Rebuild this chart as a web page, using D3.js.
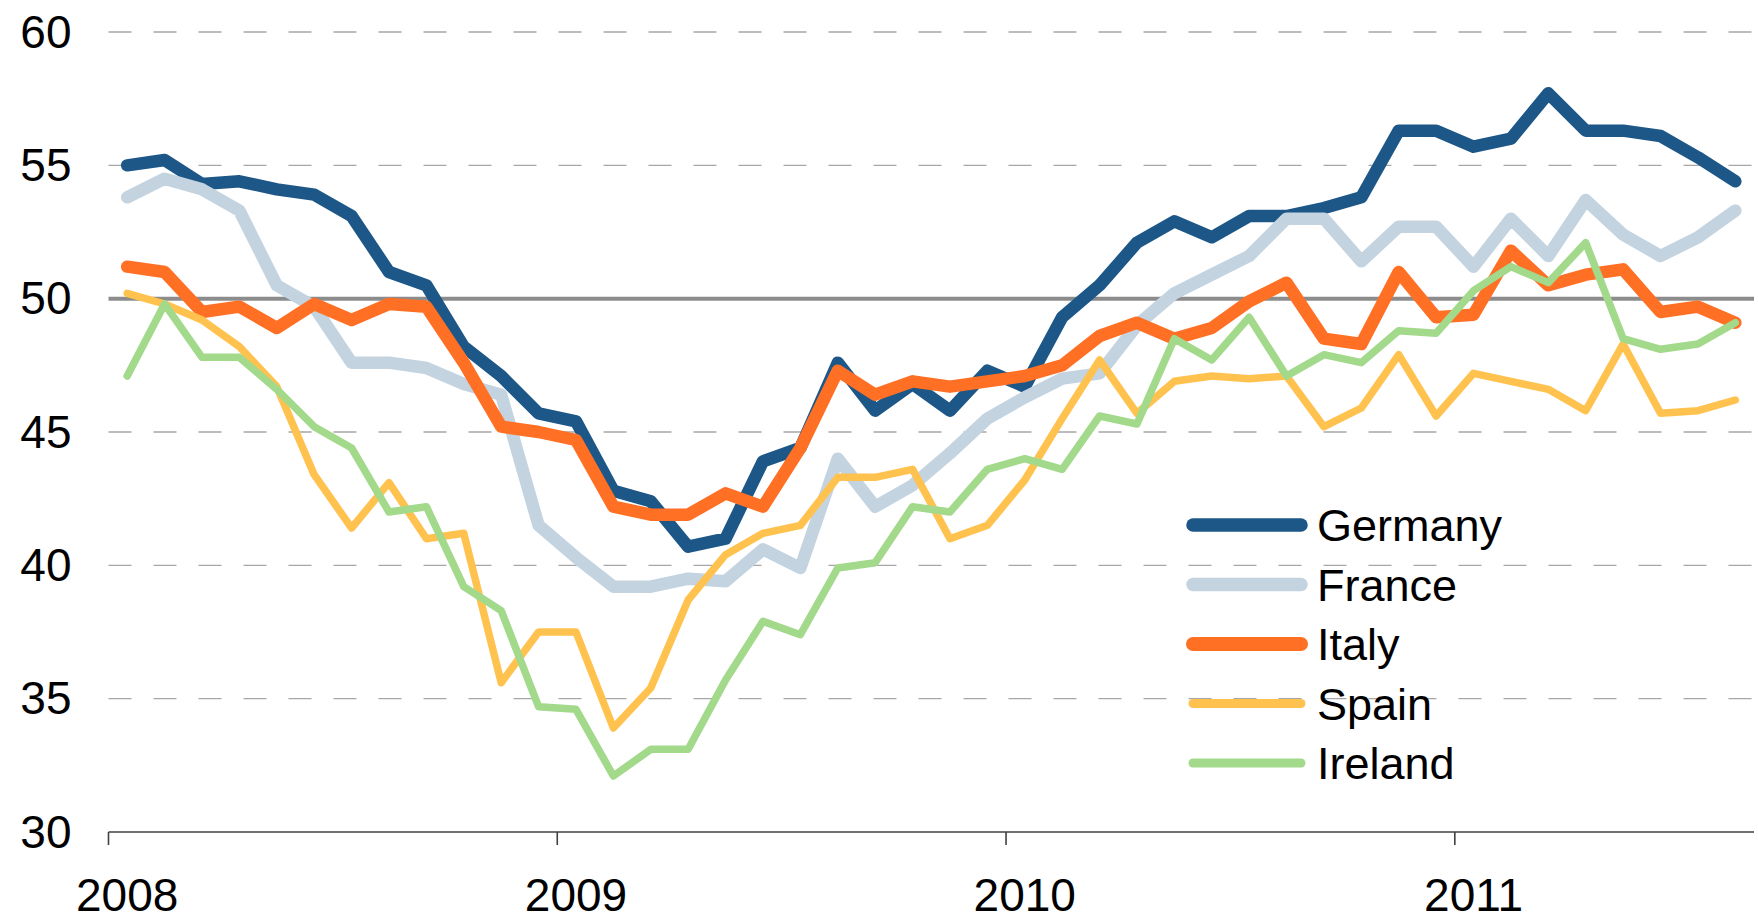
<!DOCTYPE html>
<html>
<head>
<meta charset="utf-8">
<script src="https://cdn.jsdelivr.net/npm/d3@7"></script>
<style>
	html, body { margin: 0; padding: 0; background: #fff; }
	svg { display: block; font-family: "Liberation Sans", Arial, sans-serif; }
	.axis text { fill: #000; font-size: 46px; }
	.legend text { fill: #000; font-size: 45px; }
</style>
</head>
<body>
<div id="chart"></div>
<script>
// monthly PMI readings, Jan 2008 - Aug 2011
const months = [
	'2008-01','2008-02','2008-03','2008-04','2008-05','2008-06','2008-07','2008-08','2008-09','2008-10','2008-11','2008-12',
	'2009-01','2009-02','2009-03','2009-04','2009-05','2009-06','2009-07','2009-08','2009-09','2009-10','2009-11','2009-12',
	'2010-01','2010-02','2010-03','2010-04','2010-05','2010-06','2010-07','2010-08','2010-09','2010-10','2010-11','2010-12',
	'2011-01','2011-02','2011-03','2011-04','2011-05','2011-06','2011-07','2011-08'
];
const germany = [55.0,55.2,54.3,54.4,54.1,53.9,53.1,51.0,50.5,48.2,47.1,45.7,
	45.4,42.8,42.4,40.7,41.0,43.9,44.4,47.6,45.8,46.8,45.8,47.3,
	46.7,49.3,50.5,52.1,52.9,52.3,53.1,53.1,53.4,53.8,56.3,56.3,
	55.7,56.0,57.7,56.3,56.3,56.1,55.3,54.4];
const france = [53.8,54.5,54.1,53.3,50.5,49.7,47.6,47.6,47.4,46.8,46.4,41.5,
	40.3,39.2,39.2,39.5,39.4,40.6,39.9,44.0,42.2,43.0,44.2,45.5,
	46.3,47.0,47.2,49.0,50.2,50.9,51.6,53.0,53.0,51.4,52.7,52.7,
	51.2,53.0,51.6,53.7,52.4,51.6,52.3,53.3];
const italy = [51.2,51.0,49.5,49.7,48.9,49.8,49.2,49.8,49.7,47.6,45.2,45.0,
	44.7,42.2,41.9,41.9,42.7,42.2,44.4,47.3,46.4,46.9,46.7,46.9,
	47.1,47.5,48.6,49.1,48.5,48.9,49.9,50.6,48.5,48.3,51.0,49.3,
	49.4,51.8,50.5,50.9,51.1,49.5,49.7,49.1];
const spain = [50.2,49.8,49.2,48.2,46.7,43.4,41.4,43.1,41.0,41.2,35.6,37.5,
	37.5,33.9,35.4,38.7,40.4,41.2,41.5,43.3,43.3,43.6,41.0,41.5,
	43.2,45.5,47.7,45.7,46.9,47.1,47.0,47.1,45.2,45.9,47.9,45.6,
	47.2,46.9,46.6,45.8,48.3,45.7,45.8,46.2];
const ireland = [47.1,49.8,47.8,47.8,46.6,45.2,44.4,42.0,42.2,39.2,38.3,34.7,
	34.6,32.1,33.1,33.1,35.7,37.9,37.4,39.9,40.1,42.2,42.0,43.6,
	44.0,43.6,45.6,45.3,48.5,47.7,49.3,47.1,47.9,47.6,48.8,48.7,
	50.3,51.2,50.6,52.1,48.5,48.1,48.3,49.1];

const countries = ['Germany', 'France', 'Italy', 'Spain', 'Ireland'];
const seriesValues = [germany, france, italy, spain, ireland];
const colors = ['#1c5787', '#c3d3e0', '#ff6f24', '#ffc24f', '#a2d98b'];
const widths = [12.5, 12.5, 12.5, 7.5, 7.5];
const legendWidths = [13.5, 13.5, 14, 9, 9];

const yTicks = [30, 35, 40, 45, 50, 55, 60];
const yearLabels = ['2008', '2009', '2010', '2011'];

// dimension stuff
const width = 1758;
const height = 922;
const marginLeft = 108.5;
const marginRight = 4;
const marginTop = 32;
const axisY = 832;

const $svg = d3.select('#chart').append('svg')
	.attr('width', width)
	.attr('height', height);

// scales
const scaleX = d3.scaleBand()
	.domain(months)
	.range([marginLeft, width - marginRight])
	.paddingInner(0)
	.paddingOuter(0);
const bw = scaleX.bandwidth();
const scaleY = d3.scaleLinear()
	.domain([30, 60])
	.range([axisY, marginTop]);

// gridlines
const $grid = $svg.append('g').attr('class', 'grid');
$grid.selectAll('line')
	.data(yTicks.filter(d => d !== 30 && d !== 50))
	.enter().append('line')
	.attr('x1', marginLeft)
	.attr('x2', width - marginRight)
	.attr('y1', d => scaleY(d))
	.attr('y2', d => scaleY(d))
	.attr('stroke', '#a6a6a6')
	.attr('stroke-width', 1.4)
	.attr('stroke-dasharray', '23,22');

// 50 reference line
$svg.append('line')
	.attr('x1', marginLeft)
	.attr('x2', width - marginRight)
	.attr('y1', scaleY(50))
	.attr('y2', scaleY(50))
	.attr('stroke', '#8c8c8c')
	.attr('stroke-width', 4);

// y axis labels
const $yAxis = $svg.append('g')
	.attr('class', 'axis y')
	.attr('transform', `translate(${marginLeft},0)`)
	.call(d3.axisLeft(scaleY).tickValues(yTicks).tickSize(0).tickPadding(37).tickFormat(d3.format('d')));
$yAxis.select('.domain').remove();
$yAxis.selectAll('text').attr('dy', '0.33em');

// x axis: ticks between years, labels under each January
const januaries = months.filter(m => m.endsWith('-01'));
const $xAxis = $svg.append('g')
	.attr('class', 'axis x')
	.attr('transform', `translate(0,${axisY})`)
	.call(d3.axisBottom(scaleX).tickValues(januaries).tickSize(0).tickPadding(0)
		.tickFormat((d, i) => yearLabels[i]));
$xAxis.select('.domain')
	.attr('d', `M${marginLeft},0H${width - marginRight}`)
	.attr('stroke', '#404040')
	.attr('stroke-width', 1.6);
$xAxis.selectAll('.tick line')
	.attr('x1', -bw / 2)
	.attr('x2', -bw / 2)
	.attr('y2', 13)
	.attr('stroke', '#404040')
	.attr('stroke-width', 1.6);
$xAxis.selectAll('.tick text')
	.attr('dy', 0)
	.attr('y', 79);

// lines
const line = d3.line()
	.x((d, i) => scaleX(months[i]) + bw / 2)
	.y(d => scaleY(d));

const $lines = $svg.append('g').attr('class', 'lines');
$lines.selectAll('path')
	.data(seriesValues)
	.enter().append('path')
	.attr('d', line)
	.attr('fill', 'none')
	.attr('stroke', (d, i) => colors[i])
	.attr('stroke-width', (d, i) => widths[i])
	.attr('stroke-linejoin', 'round')
	.attr('stroke-linecap', 'round');

// legend
const legendX = 1193;
const legendTop = 525;
const legendStep = 59.5;
const $legend = $svg.append('g').attr('class', 'legend');
const $item = $legend.selectAll('g')
	.data(countries)
	.enter().append('g')
	.attr('transform', (d, i) => `translate(${legendX},${legendTop + i * legendStep})`);
$item.append('line')
	.attr('x1', 0)
	.attr('x2', 108)
	.attr('stroke', (d, i) => colors[i])
	.attr('stroke-width', (d, i) => legendWidths[i])
	.attr('stroke-linecap', 'round');
$item.append('text')
	.attr('x', 124)
	.attr('y', 16)
	.text(d => d);
</script>
</body>
</html>
